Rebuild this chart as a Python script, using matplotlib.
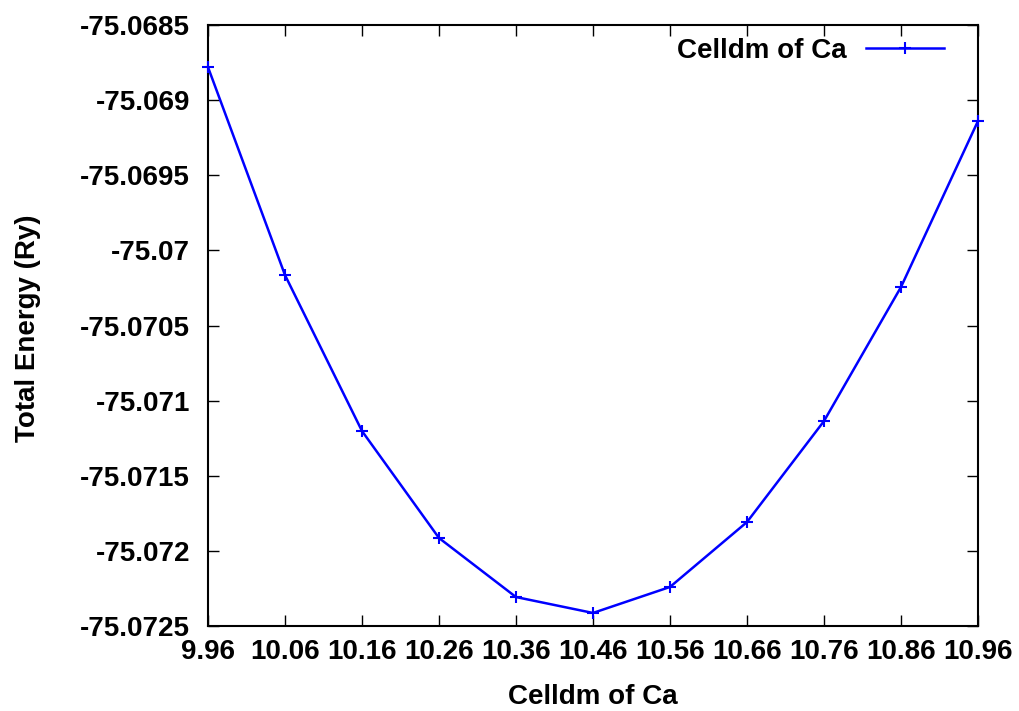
import numpy as np
import matplotlib
matplotlib.use("Agg")
import matplotlib.pyplot as plt

# lattice parameter (celldm) vs total energy
celldm = [9.96, 10.06, 10.16, 10.26, 10.36, 10.46, 10.56, 10.66, 10.76, 10.86, 10.96]
energy = [-75.068780, -75.070164, -75.071202, -75.071914, -75.072307, -75.072413,
          -75.072240, -75.071808, -75.071136, -75.070244, -75.069139]

xtick_labels = ["9.96", "10.06", "10.16", "10.26", "10.36", "10.46",
                "10.56", "10.66", "10.76", "10.86", "10.96"]
ytick_vals = [-75.0725, -75.072, -75.0715, -75.071, -75.0705, -75.07, -75.0695, -75.069, -75.0685]
ytick_labels = ["-75.0725", "-75.072", "-75.0715", "-75.071", "-75.0705",
                "-75.07", "-75.0695", "-75.069", "-75.0685"]

plt.rcParams['font.family'] = ['Liberation Sans', 'DejaVu Sans']
plt.rcParams['font.weight'] = 'bold'

fig = plt.figure(figsize=(10.2, 7.11), dpi=100)
ax = fig.add_axes([0.2039, 0.1195, 0.7549, 0.8453])

ax.plot(celldm, energy, color='#0000ff', lw=1.8, marker='+', ms=9, mew=1.5,
        label="Celldm of Ca", clip_on=False, zorder=3)

ax.set_xlim(9.96, 10.96)
ax.set_ylim(-75.0725, -75.0685)
ax.set_xticks(celldm)
ax.set_xticklabels(xtick_labels)
ax.set_yticks(ytick_vals)
ax.set_yticklabels(ytick_labels)

ax.tick_params(direction='in', length=8, width=1, top=True, right=True,
               labelsize=20, colors='black')
ax.tick_params(axis='y', pad=13)
ax.tick_params(axis='x', pad=9)
for s in ax.spines.values():
    s.set_linewidth(1.5)

ax.set_xlabel("Celldm of Ca", fontsize=20, fontweight='bold', labelpad=14)
ax.set_ylabel("Total Energy (Ry)", fontsize=20, fontweight='bold')
ax.yaxis.set_label_coords(-0.2169, 0.496)

leg = ax.legend(loc='upper right', bbox_to_anchor=(0.970, 0.9967), frameon=False,
                fontsize=20, markerfirst=False, handlelength=2.8,
                borderaxespad=0, handletextpad=0.68)

fig.savefig("out.png", dpi=100)
